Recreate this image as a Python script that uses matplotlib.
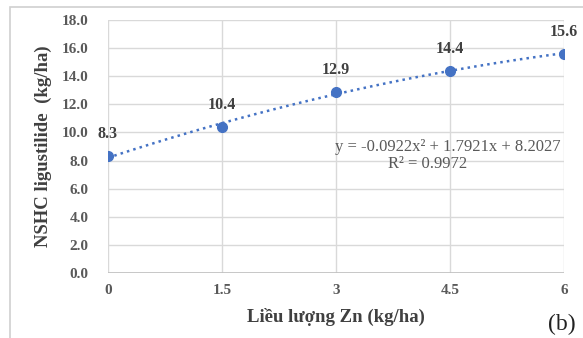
import numpy as np
import matplotlib.pyplot as plt
from matplotlib.patches import Rectangle

# dữ liệu
zn_dose = [0, 1.5, 3, 4.5, 6]
ligustilide = [8.3, 10.4, 12.9, 14.4, 15.6]
x_ticks = [0, 1.5, 3, 4.5, 6]
x_ticklabels = ['0', '1.5', '3', '4.5', '6']
y_ticks = [0, 2, 4, 6, 8, 10, 12, 14, 16, 18]

plt.rcParams['font.family'] = ['Liberation Serif', 'DejaVu Serif']

fig = plt.figure(figsize=(5.83, 3.38), dpi=100)
ax = fig.add_axes([108/583, 65/338, 456/583, 253/338])

# khung ngoài của biểu đồ
fig.patches.append(Rectangle((10/583, -0.05), 1.1, 1 - 7/338 + 0.05,
                             transform=fig.transFigure, fill=False,
                             edgecolor='#D0D0D0', linewidth=1.2))

blue = '#4472C4'
ax.plot(zn_dose, ligustilide, 'o', color=blue, markersize=7, zorder=4)

# đường xu hướng bậc 2
coef = np.polyfit(zn_dose, ligustilide, 2)
xs = np.linspace(0, 6, 100)
ax.plot(xs, np.polyval(coef, xs), ':', color=blue, linewidth=1.8, zorder=3)

for x, y in zip(zn_dose, ligustilide):
    ax.annotate(f'{y:.1f}', (x, y), xytext=(0, 10), textcoords='offset points',
                ha='center', va='bottom', fontsize=11.5, fontweight='bold',
                color='#404040', zorder=5)

ax.text(5.95, 8.97, 'y = -0.0922x² + 1.7921x + 8.2027', ha='right', va='center',
        fontsize=12, color='#595959')
ax.text(4.2, 7.75, 'R² = 0.9972', ha='center', va='center',
        fontsize=12, color='#595959')

ax.set_xlim(0, 6)
ax.set_ylim(0, 18)
ax.set_xticks(x_ticks)
ax.set_xticklabels(x_ticklabels)
ax.set_yticks(y_ticks)
ax.set_yticklabels([f'{v:.1f}' for v in y_ticks])
ax.grid(True, color='#D9D9D9', linewidth=1)
ax.set_axisbelow(True)
for s in ax.spines.values():
    s.set_visible(False)
ax.axhline(0, color='#BFBFBF', linewidth=1.2, zorder=2)
ax.tick_params(axis='x', length=0, labelsize=11, labelcolor='#595959', pad=8)
ax.tick_params(axis='y', length=0, labelsize=11, labelcolor='#595959', pad=14)
for lab in ax.get_xticklabels() + ax.get_yticklabels():
    lab.set_fontweight('bold')

ax.set_xlabel('Liều lượng Zn (kg/ha)', fontsize=13.5, fontweight='bold',
              color='#404040', labelpad=8)
ax.set_ylabel('NSHC ligustilide  (kg/ha)', fontsize=13.5, fontweight='bold',
              color='#404040', labelpad=7)

fig.text(562/583, 1 - 324/338, '(b)', ha='center', va='center', fontsize=17,
         color='#222222')

fig.savefig('out.png', dpi=100)
